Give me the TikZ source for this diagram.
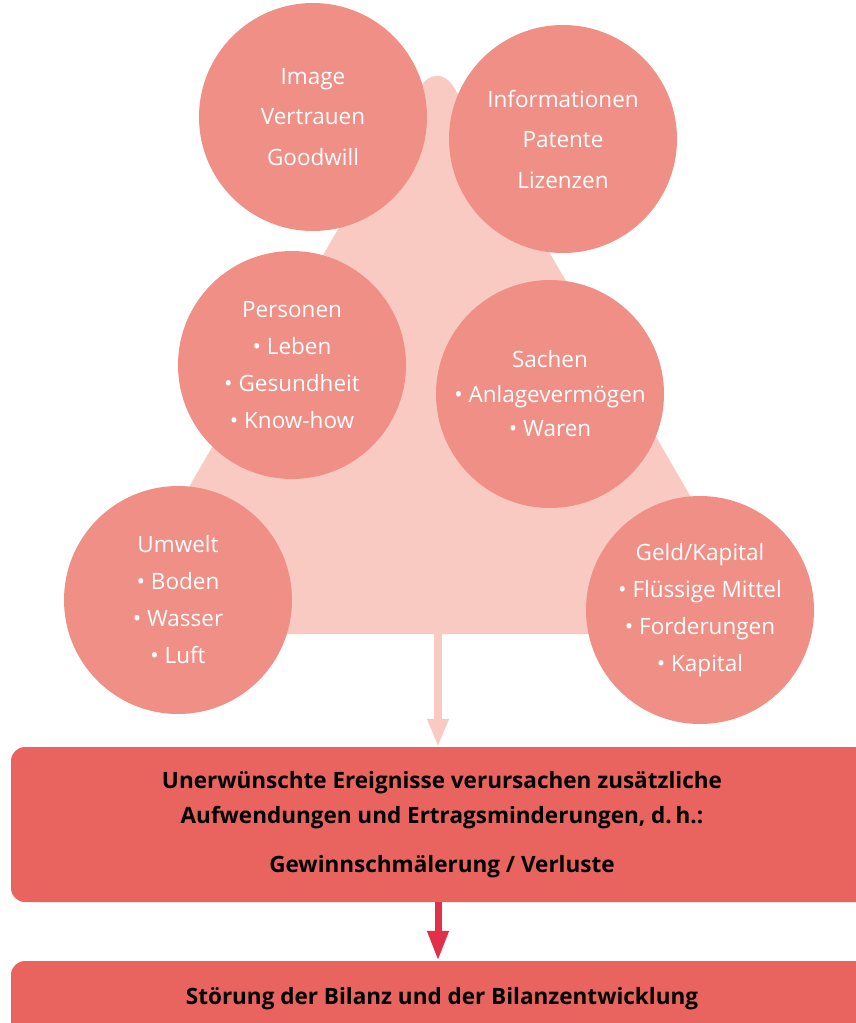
\documentclass[tikz,border=0pt]{standalone}
\usepackage{fontspec}
\setmainfont{Open Sans}
\usetikzlibrary{arrows.meta}
\definecolor{tri}{HTML}{F9CAC2}
\definecolor{circ}{HTML}{F08F86}
\definecolor{boxred}{HTML}{E9645F}
\definecolor{arrred}{HTML}{E3304A}

\begin{document}
\begin{tikzpicture}[x=1pt, y=-1pt,
  risk/.style={circle, fill=circ, minimum size=228pt, inner sep=0pt, text=white, align=center, font=\fontsize{22.5}{37}\selectfont},
  banner/.style={fill=boxred, rounded corners=14pt, minimum width=862pt, align=center, font=\fontsize{22.5}{35}\selectfont\bfseries}]
  \useasboundingbox (0,0) rectangle (855,1023);
  % background triangle
  \fill[tri, rounded corners=35pt] (104,634) -- (437,58) -- (770,634) -- cycle;
  \coordinate (base) at (438,634);
  % risk objects
  \node[risk, font=\fontsize{22.5}{40.5}\selectfont] (image) at (313,117) {Image\\Vertrauen\\Goodwill};
  \node[risk, font=\fontsize{22.5}{40.5}\selectfont] (info) at (563,139) {Informationen\\Patente\\Lizenzen};
  \node[risk] (personen) at (292,365) {Personen\\\textbullet\ Leben\\\textbullet\ Gesundheit\\\textbullet\ Know-how};
  \node[risk, font=\fontsize{22.5}{34.5}\selectfont] (sachen) at (550,394) {Sachen\\\textbullet\ Anlagevermögen\\\textbullet\ Waren};
  \node[risk] (umwelt) at (178,600) {Umwelt\\\textbullet\ Boden\\\textbullet\ Wasser\\\textbullet\ Luft};
  \node[risk] (geld) at (700,610) {Geld/Kapital\\\textbullet\ Flüssige Mittel\\\textbullet\ Forderungen\\\textbullet\ Kapital};
  % consequences
  \node[banner, minimum height=155pt] (folge) at (442,824.5) {Unerwünschte Ereignisse verursachen zusätzliche\\Aufwendungen und Ertragsminderungen, d.\,h.:\\[14pt]Gewinnschmälerung / Verluste};
  \node[banner, minimum height=76pt] (bilanz) at (442,999) {Störung der Bilanz und der Bilanzentwicklung};
  \draw[tri, line width=8pt, -{Triangle[width=20pt, length=28pt]}] (base) -- (base |- folge.north);
  \draw[arrred, line width=7pt, -{Triangle[width=20pt, length=30pt]}] (folge.south -| base) -- (bilanz.north -| base);
\end{tikzpicture}
\end{document}
